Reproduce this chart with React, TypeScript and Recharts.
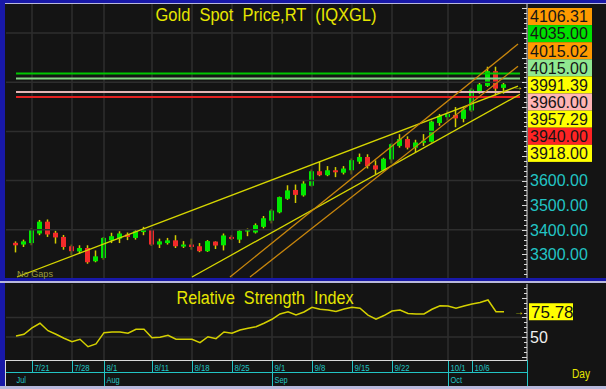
import React from "react";
import { ComposedChart, Bar, Line, XAxis, YAxis, ReferenceLine } from "recharts";

// trading days shown on the chart
const dates = [
  "7/17", "7/18", "7/21", "7/22", "7/23", "7/24", "7/25", "7/28", "7/29", "7/30", "7/31",
  "8/1", "8/4", "8/5", "8/6", "8/7", "8/8", "8/11", "8/12", "8/13", "8/14", "8/15",
  "8/18", "8/19", "8/20", "8/21", "8/22", "8/25", "8/26", "8/27", "8/28", "8/29",
  "9/1", "9/2", "9/3", "9/4", "9/5", "9/8", "9/9", "9/10", "9/11", "9/12",
  "9/15", "9/16", "9/17", "9/18", "9/19", "9/22", "9/23", "9/24", "9/25", "9/26",
  "9/29", "9/30", "10/1", "10/2", "10/3", "10/6", "10/7", "10/8", "10/9", "10/10",
];
const opens = [
  3347, 3340, 3346, 3385, 3433, 3388, 3371, 3333, 3312, 3326, 3272,
  3285, 3357, 3364, 3381, 3367, 3392, 3401, 3340, 3346, 3357, 3334,
  3340, 3333, 3313, 3352, 3337, 3371, 3360, 3393, 3389, 3412,
  3437, 3471, 3526, 3562, 3540, 3579, 3638, 3622, 3642, 3632,
  3642, 3677, 3696, 3662, 3641, 3686, 3741, 3769, 3734, 3755,
  3758, 3834, 3858, 3867, 3851, 3885, 3963, 3985, 4045, 3977,
];
const highs = [
  3353, 3360, 3406, 3440, 3442, 3396, 3379, 3340, 3337, 3337, 3316,
  3371, 3388, 3394, 3389, 3401, 3412, 3405, 3364, 3367, 3378, 3354,
  3364, 3346, 3358, 3353, 3385, 3378, 3401, 3405, 3426, 3456,
  3484, 3535, 3581, 3584, 3600, 3645, 3677, 3659, 3655, 3659,
  3690, 3710, 3707, 3682, 3693, 3752, 3789, 3780, 3766, 3789,
  3844, 3871, 3885, 3899, 3899, 3977, 4001, 4063, 4063, 4001,
];
const lows = [
  3308, 3330, 3337, 3378, 3371, 3344, 3319, 3296, 3303, 3262, 3268,
  3278, 3346, 3346, 3358, 3360, 3378, 3334, 3326, 3340, 3326, 3326,
  3319, 3309, 3310, 3322, 3316, 3358, 3346, 3374, 3385, 3406,
  3426, 3467, 3522, 3509, 3535, 3576, 3618, 3618, 3614, 3625,
  3625, 3668, 3649, 3625, 3638, 3670, 3734, 3727, 3716, 3741,
  3755, 3823, 3844, 3817, 3837, 3879, 3953, 3981, 3946, 3953,
];
const closes = [
  3337, 3353, 3399, 3433, 3381, 3369, 3330, 3313, 3326, 3268, 3292,
  3367, 3374, 3385, 3371, 3394, 3399, 3340, 3353, 3357, 3333, 3340,
  3330, 3313, 3354, 3336, 3377, 3363, 3396, 3401, 3419, 3447,
  3478, 3533, 3560, 3542, 3588, 3638, 3622, 3642, 3634, 3649,
  3683, 3696, 3659, 3645, 3689, 3748, 3769, 3734, 3755, 3762,
  3840, 3864, 3871, 3853, 3889, 3970, 3991, 4045, 3974, 3991.39,
];
const rsiValues = [
  51.0, 52.8, 59.2, 64.0, 56.4, 52.8, 48.7, 45.2, 47.7, 40.1, 42.9,
  54.4, 55.1, 55.1, 53.8, 57.9, 57.9, 49.3, 49.7, 51.7, 47.7, 47.7,
  47.7, 44.2, 50.3, 48.3, 55.1, 53.8, 57.1, 58.9, 60.5, 64.0,
  68.1, 73.5, 75.8, 72.4, 75.5, 80.3, 78.3, 77.6, 76.0, 78.6,
  80.3, 79.3, 72.4, 68.1, 71.9, 76.5, 77.6, 74.0, 73.5, 73.5,
  78.3, 81.9, 81.6, 79.3, 81.6, 83.7, 85.2, 87.8, 75.8, 75.78,
];

const dayTicks = ["7/21", "7/28", "8/1", "8/11", "8/18", "8/25", "9/1", "9/8", "9/15", "9/22", "10/1", "10/6"];
const monthStarts = ["7/17", "8/1", "9/1", "10/1"];
const monthNames = ["Jul", "Aug", "Sep", "Oct"];
const priceTicks = [3300, 3400, 3500, 3600];
const priceGrid = [3400, 3600, 3800, 4000, 4200];
const rsiTicks = [50];
const rsiGrid = [50, 70];

// horizontal levels
const levelPrices = [4035, 4015, 3960, 3940];
const levelColors = ["#00c800", "#86d486", "#e4b4b4", "#e42020"];

// trend lines (day index, price)
const trendStartIdx = [0.125, 22, 26.75, 29.25];
const trendStartPrice = [3208, 3208, 3208, 3208];
const trendEndIdx = [62.75, 63, 62.75, 62.75];
const trendEndPrice = [3984, 3951, 4155, 4065];
const trendColors = ["#d6d600", "#d6d600", "#c8860c", "#c8860c"];

// price boxes on the right
const boxLabels = ["4106.31", "4035.00", "4015.02", "4015.00", "3991.39", "3960.00", "3957.29", "3940.00", "3918.00"];
const boxColors = ["#ff9a00", "#00e000", "#ff9a00", "#90e890", "#ffff00", "#ffb4b4", "#ffff00", "#ff2424", "#ffff00"];

const rows = dates.map((d, i) => ({
  idx: i,
  date: d,
  range: [lows[i], highs[i]],
  open: opens[i],
  close: closes[i],
  rsi: rsiValues[i],
}));

const X_DOMAIN: [number, number] = [-1.25, 63.875];
const P_DOMAIN: [number, number] = [3204, 4318];
const R_DOMAIN: [number, number] = [26.5, 104.1];
const PLOT_L = 6;
const PLOT_R = 527;
const CYAN = "#22c4c4";
const YEL = "#e6e600";
const GRID = "#2e2e2e";
const AXIS = "#d8d8d8";
const FONT = "'Liberation Sans', Arial, sans-serif";

const priceMarks: number[] = [];
for (let v = 3220; v <= 4300; v += 20) priceMarks.push(v);
const rsiMarks: number[] = [];
for (let v = 30; v <= 100; v += 5) rsiMarks.push(v);

const idxOf = (d: string) => dates.indexOf(d);

function Candle(props: any) {
  const { x, y, width, height, payload } = props;
  const top = Math.min(y, y + height);
  const bot = Math.max(y, y + height);
  const [lo, hi] = payload.range;
  const k = (bot - top) / (hi - lo || 1);
  const yO = top + (hi - payload.open) * k;
  const yC = top + (hi - payload.close) * k;
  const up = payload.close >= payload.open;
  const cx = x + width / 2;
  const bt = Math.min(yO, yC);
  const bh = Math.max(Math.abs(yO - yC), 2);
  return (
    <g>
      <line x1={cx} x2={cx} y1={top} y2={bot} stroke="#d2cc00" strokeWidth={1.5} />
      <rect x={cx - 2.5} y={bt} width={5} height={bh} fill={up ? "#00e800" : "#f22a2a"} />
    </g>
  );
}

function markTick(side: "l" | "r", majorOf: (v: number) => boolean, label?: (v: number) => React.ReactNode) {
  return (p: any) => {
    const v = p.payload.value;
    const len = majorOf(v) ? 5 : 3;
    const yy = Math.round(p.y) + 0.5;
    const x1 = side === "l" ? PLOT_L : PLOT_R - len;
    const x2 = side === "l" ? PLOT_L + len : PLOT_R;
    return (
      <g>
        <line x1={x1} x2={x2} y1={yy} y2={yy} stroke={AXIS} strokeWidth={1} />
        {label ? label(v) && (
          <text x={530} y={p.y} dy="0.36em" fontSize={16} fontFamily={FONT} fill={v === 50 ? "#f0f0f0" : CYAN}>
            {label(v)}
          </text>
        ) : null}
      </g>
    );
  };
}

const priceLabel = (v: number) => (priceTicks.includes(v) ? v.toFixed(2) : null);
const rsiLabel = (v: number) => (rsiTicks.includes(v) ? String(v) : null);

function DayTick(p: any) {
  const i = p.payload.value;
  const x = Math.round(p.x) + 0.5;
  return (
    <g>
      <line x1={x} x2={x} y1={80} y2={92} stroke={CYAN} />
      <text transform={`translate(${x + 2},90.5) scale(0.82,1)`} fontSize={9.5} fontFamily={FONT} fill={CYAN}>
        {dates[i]}
      </text>
    </g>
  );
}

function MonthTick(p: any) {
  const i = p.payload.value;
  const k = monthStarts.indexOf(dates[i]);
  const x = Math.round(p.x) + 0.5;
  return (
    <g>
      {k > 0 && <line x1={x} x2={x} y1={92} y2={109} stroke={CYAN} />}
      <text transform={`translate(${k > 0 ? x + 2 : x},102.5) scale(0.78,1)`} fontSize={9.5} fontFamily={FONT} fill={CYAN}>
        {monthNames[k]}
      </text>
    </g>
  );
}

function RsiBox(props: any) {
  const vb = props.viewBox || {};
  const y = vb.y ?? 0;
  return (
    <g>
      <text x={514} y={y} dy="0.35em" fontSize={10} fontFamily={FONT} fill={YEL}>→</text>
      <rect x={529} y={y - 8.5} width={44} height={17} fill="#ffff00" />
      <text x={531} y={y} dy="0.36em" fontSize={17} fontFamily={FONT} fill="#111">
        {rsiValues[rsiValues.length - 1].toFixed(2)}
      </text>
    </g>
  );
}

export default function App() {
  const dayIdx = dayTicks.map(idxOf);
  const monthIdx = monthStarts.map(idxOf);
  return (
    <div style={{ position: "fixed", left: 0, top: 0, width: 606, height: 389, background: "#141414", overflow: "hidden" }}>
      <div style={{ position: "absolute", left: 0, top: 0 }}>
        <ComposedChart width={606} height={280} data={rows} margin={{ top: 4, right: 0, bottom: 2, left: 6 }}>
          <XAxis xAxisId="x" dataKey="idx" type="number" domain={X_DOMAIN} hide allowDataOverflow />
          <YAxis yAxisId="l" orientation="left" width={0} domain={P_DOMAIN} ticks={priceMarks} interval={0}
            axisLine={{ stroke: AXIS }} tickLine={false} tick={markTick("l", (v) => v % 100 === 0)} allowDataOverflow />
          <YAxis yAxisId="p" orientation="right" width={79} domain={P_DOMAIN} ticks={priceMarks} interval={0}
            axisLine={{ stroke: AXIS }} tickLine={false} tick={markTick("r", (v) => v % 100 === 0, priceLabel)} allowDataOverflow />
          {priceGrid.map((v) => (
            <ReferenceLine key={"g" + v} xAxisId="x" yAxisId="p" y={v} stroke={GRID} strokeWidth={1.5} />
          ))}
          {dayIdx.map((i) => (
            <ReferenceLine key={"v" + i} xAxisId="x" yAxisId="p" x={i} stroke={GRID} strokeWidth={1.5} />
          ))}
          {levelPrices.map((v, k) => (
            <ReferenceLine key={"lv" + k} xAxisId="x" yAxisId="p" stroke={levelColors[k]} strokeWidth={2}
              segment={[{ x: 0, y: v }, { x: 63, y: v }]} />
          ))}
          <Bar xAxisId="x" yAxisId="p" dataKey="range" barSize={5} shape={Candle} isAnimationActive={false} />
          {trendStartIdx.map((s, k) => (
            <ReferenceLine key={"t" + k} xAxisId="x" yAxisId="p" stroke={trendColors[k]} strokeWidth={1.3}
              segment={[{ x: s, y: trendStartPrice[k] }, { x: trendEndIdx[k], y: trendEndPrice[k] }]} />
          ))}
        </ComposedChart>
      </div>

      <div style={{ position: "absolute", left: 0, top: 280 }}>
        <ComposedChart width={606} height={109} data={rows} margin={{ top: 4, right: 0, bottom: 0, left: 6 }}>
          <XAxis xAxisId="x" dataKey="idx" type="number" domain={X_DOMAIN} hide allowDataOverflow />
          <XAxis xAxisId="day" dataKey="idx" type="number" domain={X_DOMAIN} ticks={dayIdx} interval={0} height={12}
            axisLine={false} tickLine={false} tick={DayTick} allowDataOverflow />
          <XAxis xAxisId="month" dataKey="idx" type="number" domain={X_DOMAIN} ticks={monthIdx} interval={0} height={17}
            axisLine={false} tickLine={false} tick={MonthTick} allowDataOverflow />
          <YAxis yAxisId="l" orientation="left" width={0} domain={R_DOMAIN} ticks={rsiMarks} interval={0}
            axisLine={{ stroke: AXIS }} tickLine={false} tick={markTick("l", (v) => v % 20 === 10)} allowDataOverflow />
          <YAxis yAxisId="r" orientation="right" width={79} domain={R_DOMAIN} ticks={rsiMarks} interval={0}
            axisLine={{ stroke: AXIS }} tickLine={false} tick={markTick("r", (v) => v % 20 === 10, rsiLabel)} allowDataOverflow />
          {rsiGrid.map((v) => (
            <ReferenceLine key={"rg" + v} xAxisId="x" yAxisId="r" y={v} stroke={GRID} strokeWidth={1.5} />
          ))}
          {dayIdx.map((i) => (
            <ReferenceLine key={"rv" + i} xAxisId="x" yAxisId="r" x={i} stroke={GRID} strokeWidth={1.5} />
          ))}
          <Line xAxisId="x" yAxisId="r" dataKey="rsi" stroke="#d4d000" strokeWidth={1.5} dot={false} isAnimationActive={false} />
          <ReferenceLine xAxisId="x" yAxisId="r" y={rsiValues[rsiValues.length - 1]} stroke="none" label={RsiBox} />
        </ComposedChart>
      </div>

      <svg width={606} height={389} style={{ position: "absolute", left: 0, top: 0, pointerEvents: "none" }}>
        {/* frame */}
        <rect x={0} y={0} width={606} height={3} fill="#1818a8" />
        <rect x={0} y={0} width={5} height={389} fill="#1818a8" />
        <rect x={0} y={278} width={606} height={3} fill="#1818a8" />
        <rect x={0} y={281} width={606} height={2} fill="#b8b8dc" />
        <rect x={0} y={386} width={606} height={3} fill="#b8b8dc" />
        <line x1={5} x2={606} y1={3.5} y2={3.5} stroke="#b8b8dc" />
        <line x1={5.5} x2={5.5} y1={360} y2={386} stroke={AXIS} />
        <line x1={5} x2={PLOT_R} y1={360.5} y2={360.5} stroke={AXIS} />
        <line x1={6} x2={PLOT_R} y1={372.5} y2={372.5} stroke={CYAN} />
        <line x1={PLOT_R + 0.5} x2={PLOT_R + 0.5} y1={360} y2={386} stroke={CYAN} />

        <text x={155.5} y={21} fontSize={19} fontFamily={FONT} fill={YEL} textLength={221}
          lengthAdjust="spacingAndGlyphs" style={{ whiteSpace: "pre" }}>
          {"Gold  Spot  Price,RT  (IQXGL)"}
        </text>
        <text x={176.5} y={303.5} fontSize={18} fontFamily={FONT} fill={YEL} textLength={177}
          lengthAdjust="spacingAndGlyphs" style={{ whiteSpace: "pre" }}>
          {"Relative  Strength  Index"}
        </text>
        <text x={17} y={277} fontSize={9} fontFamily={FONT} fill="#9a9a3a" textLength={36} lengthAdjust="spacingAndGlyphs">
          No Gaps
        </text>
        <text x={572} y={378} fontSize={12} fontFamily={FONT} fill={YEL} textLength={18} lengthAdjust="spacingAndGlyphs">
          Day
        </text>
        <text x={513} y={89.5} fontSize={10} fontFamily={FONT} fill={YEL}>→</text>

        {boxLabels.map((t, k) => {
          const top = 8 + k * 17.1;
          return (
            <g key={t + k}>
              <rect x={528} y={top} width={64} height={17.1} fill={boxColors[k]} />
              <text x={530} y={top + 8.6} dy="0.36em" fontSize={16} fontFamily={FONT} fill="#161616">
                {t}
              </text>
            </g>
          );
        })}
      </svg>
    </div>
  );
}
